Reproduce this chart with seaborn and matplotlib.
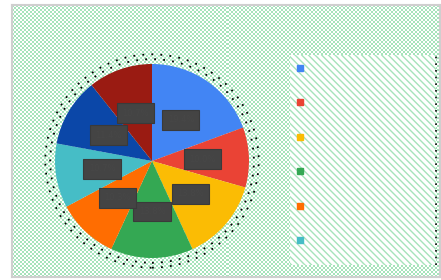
import numpy as np
import matplotlib
matplotlib.use("Agg")
import matplotlib.pyplot as plt
from matplotlib.patches import Rectangle, Circle
from matplotlib.lines import Line2D
import seaborn as sns

sns.set_style("white")
plt.rcParams['font.family'] = ['DejaVu Sans']

categories = ["A", "B", "C", "D", "E", "F", "G", "H"]
values = [19.4, 10.0, 13.75, 13.75, 10.3, 10.7, 11.4, 10.7]
colors = ["#4285F4", "#EA4335", "#FBBC04", "#34A853", "#FF6D01",
          "#46BDC6", "#0B47A8", "#9A1B12"]
legend_count = 6

W, H = 441, 280
fig = plt.figure(figsize=(W / 100, H / 100), dpi=100)
fig.patch.set_facecolor("white")

# background frame with checker pattern
x0, y0, x1, y1 = 12, 5, 440, 277
bg = fig.add_axes([x0 / W, 1 - y1 / H, (x1 - x0) / W, (y1 - y0) / H])
nx, ny = (x1 - x0), (y1 - y0)
yy, xx = np.mgrid[0:ny, 0:nx]
chk = ((xx // 2 + yy // 2) % 2).astype(float)
img = np.ones((ny, nx, 3))
green = np.array([0xa6, 0xe3, 0xbb]) / 255
img[chk == 0] = green
bg.imshow(img, aspect="auto", interpolation="nearest", extent=(0, 1, 0, 1))
bg.set_xlim(0, 1); bg.set_ylim(0, 1)
bg.set_xticks([]); bg.set_yticks([])
for s in bg.spines.values():
    s.set_color("#cfcfcf"); s.set_linewidth(1.5)

# legend hatched area
lx0, ly0, lx1, ly1 = 290, 55, 436, 265
fig.patches.append(Rectangle((lx0 / W, 1 - ly1 / H), (lx1 - lx0) / W, (ly1 - ly0) / H,
                             transform=fig.transFigure, facecolor="white",
                             edgecolor="#a6e3bb", hatch="\\\\\\\\\\", linewidth=0, zorder=1))
fig.add_artist(Line2D([lx1 / W, lx1 / W], [1 - ly1 / H, 1 - ly0 / H], transform=fig.transFigure,
                      color="black", linestyle=(0, (1, 3)), linewidth=1.2, zorder=2))

# pie
cx, cy, r = 152, 161, 97
ax = fig.add_axes([(cx - r * 1.15) / W, 1 - (cy + r * 1.15) / H, 2 * r * 1.15 / W, 2 * r * 1.15 / H])
ax.set_facecolor("none")
wedges, texts, autotexts = ax.pie(values, colors=colors, startangle=90, counterclock=False,
                                  radius=1.0, autopct="%.1f%%", pctdistance=0.52,
                                  wedgeprops=dict(linewidth=0),
                                  textprops=dict(fontsize=6, color="#474747"))
for t in autotexts:
    t.set_bbox(dict(boxstyle="square,pad=0.65", facecolor="#444444", edgecolor="#3a3a3a",
                    linewidth=0.8))
for rr in (1.05, 1.1):
    ax.add_patch(Circle((0, 0), rr, fill=False, edgecolor="black",
                        linestyle=(0, (1, 4)), linewidth=1.3))
ax.set_xlim(-1.15, 1.15); ax.set_ylim(-1.15, 1.15)
ax.set_aspect("equal")
ax.axis("off")

handles = [Line2D([], [], marker="s", linestyle="none", markersize=4.5,
                  markerfacecolor=c, markeredgecolor=c) for c in colors[:legend_count]]
leg = fig.legend(handles, categories[:legend_count], loc="upper left",
                 bbox_to_anchor=(289 / W, 1 - 56 / H), frameon=False, fontsize=8,
                 labelcolor="none", labelspacing=2.2, handlelength=0.6,
                 handletextpad=0.5, borderpad=0.2)
leg.set_zorder(5)

fig.savefig("out.png", dpi=100)
